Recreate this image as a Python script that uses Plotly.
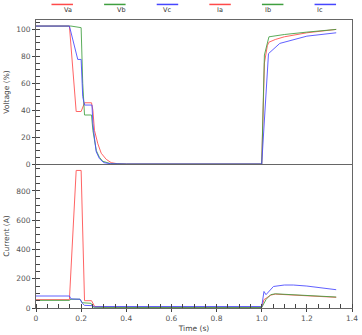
import plotly.graph_objects as go
from plotly.subplots import make_subplots

# ---- data ----
names = ["Va", "Vb", "Vc", "Ia", "Ib", "Ic"]
colors = ["#ff4a4a", "#3f9f3f", "#4646ff", "#ff4a4a", "#3f9f3f", "#4646ff"]

va_t = [0, 0.148, 0.178, 0.2, 0.215, 0.246, 0.252, 0.259, 0.274, 0.289, 0.311, 0.333, 0.36, 0.4, 1.0, 1.012, 1.025, 1.032, 1.06, 1.1, 1.2, 1.33]
va = [102.5, 102.5, 39, 39, 45.5, 45.5, 40, 25, 15, 8, 3.5, 1, 0.2, 0, 0, 75, 88, 90.5, 92.5, 94.5, 97.5, 100]

vb_t = [0, 0.155, 0.2, 0.207, 0.215, 0.246, 0.252, 0.267, 0.281, 0.296, 0.33, 0.4, 1.0, 1.012, 1.032, 1.1, 1.2, 1.33]
vb = [102.5, 102.5, 101.3, 60, 36.4, 36.4, 25, 10, 5, 2, 0.3, 0, 0, 81, 94.5, 96.2, 98, 100]

vc_t = [0, 0.148, 0.185, 0.2, 0.207, 0.215, 0.248, 0.252, 0.26, 0.267, 0.281, 0.3, 0.33, 0.4, 1.0, 1.03, 1.08, 1.2, 1.33]
vc = [102.5, 102.5, 77.7, 77.7, 50, 43.8, 43.8, 30, 18, 9, 4, 1, 0.2, 0, 0, 82, 89.6, 95, 97.5]

ia_t = [0, 0.148, 0.178, 0.2, 0.215, 0.246, 0.26, 0.3, 0.5, 0.8, 1.0, 1.01, 1.04, 1.06, 1.1, 1.2, 1.33]
ia = [57, 57, 940, 940, 50, 50, 10, 6, 5, 5, 5, 57, 88, 95, 92, 85, 73]

ib_t = [0, 0.148, 0.155, 0.195, 0.205, 0.244, 0.255, 0.3, 0.6, 1.0, 1.02, 1.04, 1.06, 1.1, 1.2, 1.33]
ib = [52, 52, 60, 60, 36, 32, 5, 4, 3, 3, 60, 91, 97, 94, 86, 75]

ic_t = [0, 0.148, 0.155, 0.195, 0.205, 0.215, 0.25, 0.26, 0.3, 0.6, 0.9, 1.0, 1.01, 1.019, 1.052, 1.1, 1.14, 1.2, 1.33]
ic = [82, 82, 62, 60, 32, 18, 16, 8, 10, 12, 12, 10, 113, 91, 147, 157, 157, 150, 125]

x_ticks = [0, 0.2, 0.4, 0.6, 0.8, 1.0, 1.2, 1.4]
x_tick_text = ["0", "0.2", "0.4", "0.6", "0.8", "1.0", "1.2", "1.4"]
v_ticks = [0, 20, 40, 60, 80, 100]
i_ticks = [0, 200, 400, 600, 800]

series = [(va_t, va, 1), (vb_t, vb, 1), (vc_t, vc, 1), (ia_t, ia, 2), (ib_t, ib, 2), (ic_t, ic, 2)]

fig = make_subplots(rows=2, cols=1, shared_xaxes=True, vertical_spacing=0)
for (t, v, row), name, col in zip(series, names, colors):
    fig.add_trace(go.Scatter(x=t, y=v, mode="lines", name=name,
                             line=dict(color=col, width=1), opacity=0.85,
                             showlegend=False), row=row, col=1)

FONT = "DejaVu Sans"
tick_font = dict(family=FONT, size=7.5, color="#555")
axis_line = "#666"

common_x = dict(range=[0, 1.4], showgrid=False, zeroline=False, showline=True,
                linecolor=axis_line, linewidth=1, automargin=False)
fig.update_layout(
    width=362, height=335,
    margin=dict(l=36, r=10, t=20, b=27),
    plot_bgcolor="white", paper_bgcolor="white",
    font=dict(family=FONT, size=8, color="#444"),
    xaxis=dict(**common_x, ticks="", showticklabels=False, mirror=False),
    xaxis2=dict(**common_x, tickvals=x_ticks, ticktext=x_tick_text,
                ticks="outside", ticklen=3, tickcolor="#444", tickfont=tick_font,
                minor=dict(dtick=0.05, ticks="inside", ticklen=4, tickcolor="#444"),
                title=dict(text="Time (s)", font=dict(family=FONT, size=7.5, color="#444"), standoff=3)),
    yaxis=dict(domain=[0.5, 1.0], range=[0, 107], showgrid=False, zeroline=False,
               showline=True, linecolor=axis_line, mirror=True, automargin=False,
               tickvals=v_ticks, ticks="outside", ticklen=3, tickcolor="#444",
               tickfont=tick_font,
               minor=dict(dtick=5, ticks="inside", ticklen=4, tickcolor="#444"),
               title=dict(text="Voltage (%)", font=dict(family=FONT, size=7.5, color="#444"), standoff=5)),
    yaxis2=dict(domain=[0, 0.5], range=[0, 984], showgrid=False, zeroline=False,
                showline=True, linecolor=axis_line, mirror=True, automargin=False,
                tickvals=i_ticks, ticks="outside", ticklen=3, tickcolor="#444",
                tickfont=tick_font,
                minor=dict(dtick=50, ticks="inside", ticklen=4, tickcolor="#444"),
                title=dict(text="Current (A)", font=dict(family=FONT, size=7.5, color="#444"), standoff=5)),
)
fig.update_xaxes(mirror=True, row=1, col=1)

# legend drawn above the plot: sample line with label below
start, step, half = 0.083, 0.1665, 0.034
for i, (name, col) in enumerate(zip(names, colors)):
    cx = start + i * step
    fig.add_shape(type="line", xref="paper", yref="paper",
                  x0=cx - half, x1=cx + half, y0=1.054, y1=1.054,
                  line=dict(color=col, width=1.5))
    fig.add_annotation(x=cx, y=1.034, xref="paper", yref="paper", text=name,
                       showarrow=False, yanchor="middle",
                       font=dict(family=FONT, size=6.5, color="#333"))

fig.write_html("out.html")
